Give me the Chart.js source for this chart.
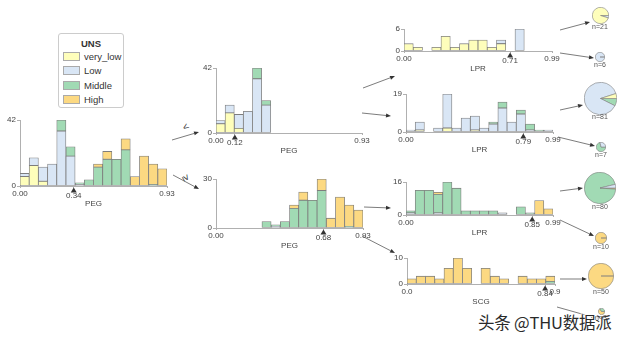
<!DOCTYPE html>
<html>
<head>
<meta charset="utf-8">
<script src="https://cdn.jsdelivr.net/npm/chart.js@4.4.0/dist/chart.umd.min.js"></script>
<style>
html, body { margin: 0; padding: 0; background: #fff; }
#wrap { position: relative; width: 624px; height: 338px; overflow: hidden; background: #fff;
        font-family: "Liberation Sans", Arial, sans-serif; color: #444; }
#wrap canvas { position: absolute; }
#arrows { position: absolute; left: 0; top: 0; }
.leaf-label { position: absolute; font-size: 7px; color: #555; transform: translateX(-50%); white-space: nowrap; line-height: 8px; }
.op { position: absolute; font-size: 10px; color: #333; line-height: 10px; }
#legend { position: absolute; left: 58px; top: 33px; width: 64px; height: 73px; border: 1px solid #ccc;
          border-radius: 3px; background: #fff; font-size: 9.5px; color: #333; }
#legend .ttl { position: absolute; left: 0; width: 64px; top: 4px; text-align: center; font-weight: bold; }
#legend .row { position: absolute; left: 4px; height: 11px; line-height: 11px; white-space: nowrap; }
#legend .sw { display: inline-block; width: 15px; height: 7px; border: 1px solid #aaa; vertical-align: -1px; margin-right: 4px; }
#mark { position: absolute; left: 478px; top: 310px; font-family: "Noto Sans CJK SC", sans-serif; font-size: 16.5px;
        color: #2a2a2a; white-space: nowrap; letter-spacing: -0.2px;
        text-shadow: 0 0 2px #fff, 0 0 2px #fff, 1px 1px 1px #fff, -1px -1px 1px #fff; }
</style>
</head>
<body>
<div id="wrap">
  <svg id="arrows" width="624" height="338"></svg>
  <div id="legend"><div class="ttl">UNS</div></div>
  <div class="op" style="left:183px;top:122px;transform:rotate(-35deg);">&lt;</div>
  <div class="op" style="left:183px;top:173px;transform:rotate(60deg);">&ge;</div>
  <div id="mark">头条 @THU数据派</div>
</div>
<script>
var classNames = ['very_low', 'Low', 'Middle', 'High'];
var classColors = ['#fefebb', '#d9e6f5', '#a1dab4', '#fcd982'];
var edgeColor = '#7d7d7d';
var axisColor = '#b0b0b0';
var textColor = '#444';
var fontFam = '"Liberation Sans", Arial, sans-serif';

// root node: PEG, 16 bins over 0..0.93
var rootVeryLow = [6, 13, 3, 0, 0, 0, 0, 0, 0, 0, 0, 0, 0, 0, 0, 0];
var rootLow     = [2, 5, 9, 14, 35, 19, 1, 0, 0, 0, 0, 0, 0, 0, 0, 0];
var rootMiddle  = [0, 0, 0, 0, 7, 6, 1, 4, 12, 17, 17, 23, 0, 0, 1, 0];
var rootHigh    = [0, 0, 0, 0, 0, 0, 0, 0, 2, 5, 0, 7, 6, 19, 13, 11];

// PEG < 0.34
var leftVeryLow = [6, 13, 3, 0, 0, 0, 0, 0, 0, 0, 0, 0, 0, 0, 0, 0];
var leftLow     = [2, 5, 9, 14, 35, 18, 0, 0, 0, 0, 0, 0, 0, 0, 0, 0];
var leftMiddle  = [0, 0, 0, 0, 7, 3, 0, 0, 0, 0, 0, 0, 0, 0, 0, 0];
var leftHigh    = [0, 0, 0, 0, 0, 0, 0, 0, 0, 0, 0, 0, 0, 0, 0, 0];

// PEG >= 0.34
var rightVeryLow = [0, 0, 0, 0, 0, 0, 0, 0, 0, 0, 0, 0, 0, 0, 0, 0];
var rightLow     = [0, 0, 0, 0, 0, 0, 1, 0, 0, 0, 0, 0, 0, 0, 0, 0];
var rightMiddle  = [0, 0, 0, 0, 0, 4, 1, 4, 12, 17, 17, 23, 0, 0, 1, 0];
var rightHigh    = [0, 0, 0, 0, 0, 0, 0, 0, 2, 5, 0, 7, 6, 19, 13, 11];

// LPR split 0.71
var aVeryLow = [2, 1, 0, 1, 4, 1, 2, 3, 3, 1, 2, 0, 0, 0, 0, 0];
var aLow     = [0, 0, 0, 0, 0, 0, 0, 0, 0, 0, 1, 0, 6, 0, 0, 0];
var aMiddle  = [0, 0, 0, 0, 0, 0, 0, 0, 0, 0, 0, 0, 0, 0, 0, 0];
var aHigh    = [0, 0, 0, 0, 0, 0, 0, 0, 0, 0, 0, 0, 0, 0, 0, 0];

// LPR split 0.79
var bVeryLow = [0, 1, 0, 0, 2, 0, 0, 1, 0, 0, 0, 0, 0, 0, 0, 0];
var bLow     = [1, 4, 0, 2, 17, 2, 7, 7, 2, 4, 12, 5, 9, 1, 0, 1];
var bMiddle  = [0, 0, 0, 0, 0, 0, 0, 0, 0, 1, 3, 0, 2, 3, 1, 0];
var bHigh    = [0, 0, 0, 0, 0, 0, 0, 0, 0, 0, 0, 0, 0, 0, 0, 0];

// LPR split 0.85
var cVeryLow = [0, 0, 0, 0, 0, 0, 0, 0, 0, 0, 0, 0, 0, 0, 0, 0];
var cLow     = [1, 0, 0, 1, 0, 0, 0, 0, 0, 0, 1, 0, 0, 0, 0, 0];
var cMiddle  = [1, 12, 12, 9, 16, 13, 2, 2, 2, 2, 0, 0, 4, 1, 0, 0];
var cHigh    = [0, 0, 0, 1, 0, 0, 0, 0, 0, 0, 0, 0, 0, 0, 7, 3];

// SCG split 0.84
var dVeryLow = [0, 0, 0, 0, 0, 0, 0, 0, 0, 0, 0, 0, 0, 0, 0, 0];
var dLow     = [0, 0, 0, 0, 0, 0, 0, 0, 0, 0, 0, 0, 0, 0, 0, 0];
var dMiddle  = [0, 0, 0, 0, 0, 0, 0, 0, 0, 0, 0, 0, 0, 0, 0, 1];
var dHigh    = [2, 3, 3, 2, 6, 10, 6, 0, 6, 3, 2, 0, 3, 2, 2, 2];

// leaves, top to bottom
var leafVeryLow = [20, 0, 4, 0, 0, 0, 0, 0];
var leafLow     = [1, 6, 71, 2, 3, 0, 0, 0];
var leafMiddle  = [0, 0, 6, 5, 76, 0, 0, 1];
var leafHigh    = [0, 0, 0, 0, 1, 10, 50, 2];

var wrap = document.getElementById('wrap');
var YW = 24, XH = 23, PT = 7, PR = 16;

Chart.register({
    id: 'splitMark',
    afterDraw: function (chart, args, opts) {
        if (opts.value === undefined) return;
        var x = chart.scales.x.getPixelForValue(opts.value);
        var y = chart.scales.x.top;
        var ctx = chart.ctx;
        ctx.save();
        ctx.fillStyle = '#333';
        ctx.beginPath();
        ctx.moveTo(x, y + 1.5);
        ctx.lineTo(x + 3, y + 6.5);
        ctx.lineTo(x - 3, y + 6.5);
        ctx.closePath();
        ctx.fill();
        ctx.restore();
    }
});

function addCanvas(left, top, w, h) {
    var c = document.createElement('canvas');
    c.width = w;
    c.height = h;
    c.style.left = left + 'px';
    c.style.top = top + 'px';
    c.style.width = w + 'px';
    c.style.height = h + 'px';
    wrap.appendChild(c);
    return c;
}

// box = [axis x, y of max tick, x of axis end, y of zero]
function createHist(box, series, xMax, xTickVals, xTickText, yMax, xTitle, split) {
    var plotW = box[2] - box[0], plotH = box[3] - box[1];
    var c = addCanvas(box[0] - YW, box[1] - PT, YW + plotW + PR, PT + plotH + XH);
    var n = series[0].length;
    var datasets = [];
    for (var k = 0; k < series.length; k++) {
        datasets.push({
            label: classNames[k],
            data: series[k].map(function (v, i) { return {x: (i + 0.5) * xMax / n, y: v}; }),
            backgroundColor: classColors[k],
            borderColor: edgeColor,
            borderWidth: 0.8,
            borderSkipped: false,
            barPercentage: 1,
            categoryPercentage: 1
        });
    }
    new Chart(c, {
        type: 'bar',
        data: {datasets: datasets},
        options: {
            responsive: false,
            animation: false,
            devicePixelRatio: 1,
            layout: {padding: {left: 0, top: PT, right: PR, bottom: 0}},
            plugins: {
                legend: {display: false},
                tooltip: {enabled: false},
                splitMark: {value: split}
            },
            scales: {
                x: {
                    type: 'linear',
                    min: 0,
                    max: xMax,
                    offset: false,
                    stacked: true,
                    grid: {offset: false, drawOnChartArea: false, tickLength: 2, color: axisColor},
                    border: {color: axisColor},
                    afterBuildTicks: function (s) {
                        s.ticks = xTickVals.map(function (v) { return {value: v}; });
                    },
                    afterFit: function (s) { s.height = XH; },
                    ticks: {
                        autoSkip: false,
                        maxRotation: 0,
                        minRotation: 0,
                        padding: 1,
                        color: textColor,
                        font: function (ctx) {
                            return {family: fontFam, size: 8, lineHeight: ctx.index === 1 ? 1.75 : 1.2};
                        },
                        callback: function (v, i) { return xTickText[i]; }
                    },
                    title: {display: true, text: xTitle, color: textColor, font: {family: fontFam, size: 8}, padding: 0}
                },
                y: {
                    min: 0,
                    max: yMax,
                    stacked: true,
                    grid: {drawOnChartArea: false, tickLength: 3, color: axisColor},
                    border: {color: axisColor},
                    afterBuildTicks: function (s) { s.ticks = [{value: 0}, {value: yMax}]; },
                    afterFit: function (s) { s.width = YW; },
                    ticks: {
                        padding: 1,
                        color: textColor,
                        font: {family: fontFam, size: 8},
                        callback: function (v) { return String(v); }
                    }
                }
            }
        }
    });
}

createHist([20, 120, 167, 186], [rootVeryLow, rootLow, rootMiddle, rootHigh], 0.93,
    [0, 0.34, 0.93], ['0.00', '0.34', '0.93'], 42, 'PEG', 0.34);
createHist([216, 68, 362, 133], [leftVeryLow, leftLow, leftMiddle, leftHigh], 0.93,
    [0, 0.12, 0.93], ['0.00', '0.12', '0.93'], 42, 'PEG', 0.12);
createHist([216, 179, 363, 228], [rightVeryLow, rightLow, rightMiddle, rightHigh], 0.93,
    [0, 0.68, 0.93], ['0.00', '0.68', '0.93'], 30, 'PEG', 0.68);
createHist([404, 29, 552, 51], [aVeryLow, aLow, aMiddle, aHigh], 0.99,
    [0, 0.71, 0.99], ['0.00', '0.71', '0.99'], 6, 'LPR', 0.71);
createHist([406, 94, 553, 132], [bVeryLow, bLow, bMiddle, bHigh], 0.99,
    [0, 0.79, 0.99], ['0.00', '0.79', '0.99'], 19, 'LPR', 0.79);
createHist([406, 182, 553, 215], [cVeryLow, cLow, cMiddle, cHigh], 0.99,
    [0, 0.85, 0.99], ['0.00', '0.85', '0.99'], 16, 'LPR', 0.85);
createHist([407, 258, 555, 284], [dVeryLow, dLow, dMiddle, dHigh], 0.9,
    [0, 0.84, 0.9], ['0.0', '0.84', '0.9'], 10, 'SCG', 0.84);

// leaf pies
var leafX = [600, 600, 600, 601, 600, 601, 601, 601];
var leafY = [15, 57, 98, 147, 188, 238, 276, 311];
var pieScale = 1.75;

function createPie(k) {
    var counts = [leafVeryLow[k], leafLow[k], leafMiddle[k], leafHigh[k]];
    var n = counts.reduce(function (a, b) { return a + b; }, 0);
    var r = pieScale * Math.sqrt(n);
    var s = Math.round(2 * r + 1);
    var c = addCanvas(Math.round(leafX[k] - s / 2), Math.round(leafY[k] - s / 2), s, s);
    new Chart(c, {
        type: 'pie',
        data: {
            labels: classNames.slice().reverse(),
            datasets: [{
                data: counts.slice().reverse(),
                backgroundColor: classColors.slice().reverse(),
                borderColor: '#808080',
                borderWidth: 0.6
            }]
        },
        options: {
            responsive: false,
            animation: false,
            devicePixelRatio: 1,
            rotation: 90,
            layout: {padding: 0},
            plugins: {legend: {display: false}, tooltip: {enabled: false}}
        }
    });
    var lab = document.createElement('div');
    lab.className = 'leaf-label';
    lab.textContent = 'n=' + n;
    lab.style.left = leafX[k] + 'px';
    lab.style.top = Math.round(leafY[k] + r - 0.5) + 'px';
    wrap.appendChild(lab);
}
for (var k = 0; k < leafX.length; k++) createPie(k);

// legend entries
var legend = document.getElementById('legend');
for (var i = 0; i < classNames.length; i++) {
    var row = document.createElement('div');
    row.className = 'row';
    row.style.top = (17 + i * 14.3) + 'px';
    row.innerHTML = '<span class="sw" style="background:' + classColors[i] + '"></span>' + classNames[i];
    legend.appendChild(row);
}

// edges between nodes
var edges = [
    [172, 140, 199, 132], [173, 175, 199, 189],
    [363, 88, 395, 76], [362, 113, 391, 116],
    [364, 207, 391, 208], [362, 236, 395, 253],
    [560, 30, 590, 22], [560, 53, 594, 58],
    [560, 110, 583, 105], [558, 137, 595, 146],
    [560, 191, 583, 188], [560, 220, 594, 236],
    [560, 279, 587, 279], [557, 307, 596, 318]
];
var svg = document.getElementById('arrows');
var html = '';
edges.forEach(function (e) {
    var dx = e[2] - e[0], dy = e[3] - e[1];
    var len = Math.sqrt(dx * dx + dy * dy);
    var ux = dx / len, uy = dy / len;
    var bx = e[2] - ux * 5, by = e[3] - uy * 5;
    html += '<line x1="' + e[0] + '" y1="' + e[1] + '" x2="' + bx + '" y2="' + by + '" stroke="#444" stroke-width="0.7"/>';
    html += '<polygon fill="#333" points="' + e[2] + ',' + e[3] + ' ' + (bx - uy * 2) + ',' + (by + ux * 2) + ' ' + (bx + uy * 2) + ',' + (by - ux * 2) + '"/>';
});
svg.innerHTML = html;
</script>
</body>
</html>
